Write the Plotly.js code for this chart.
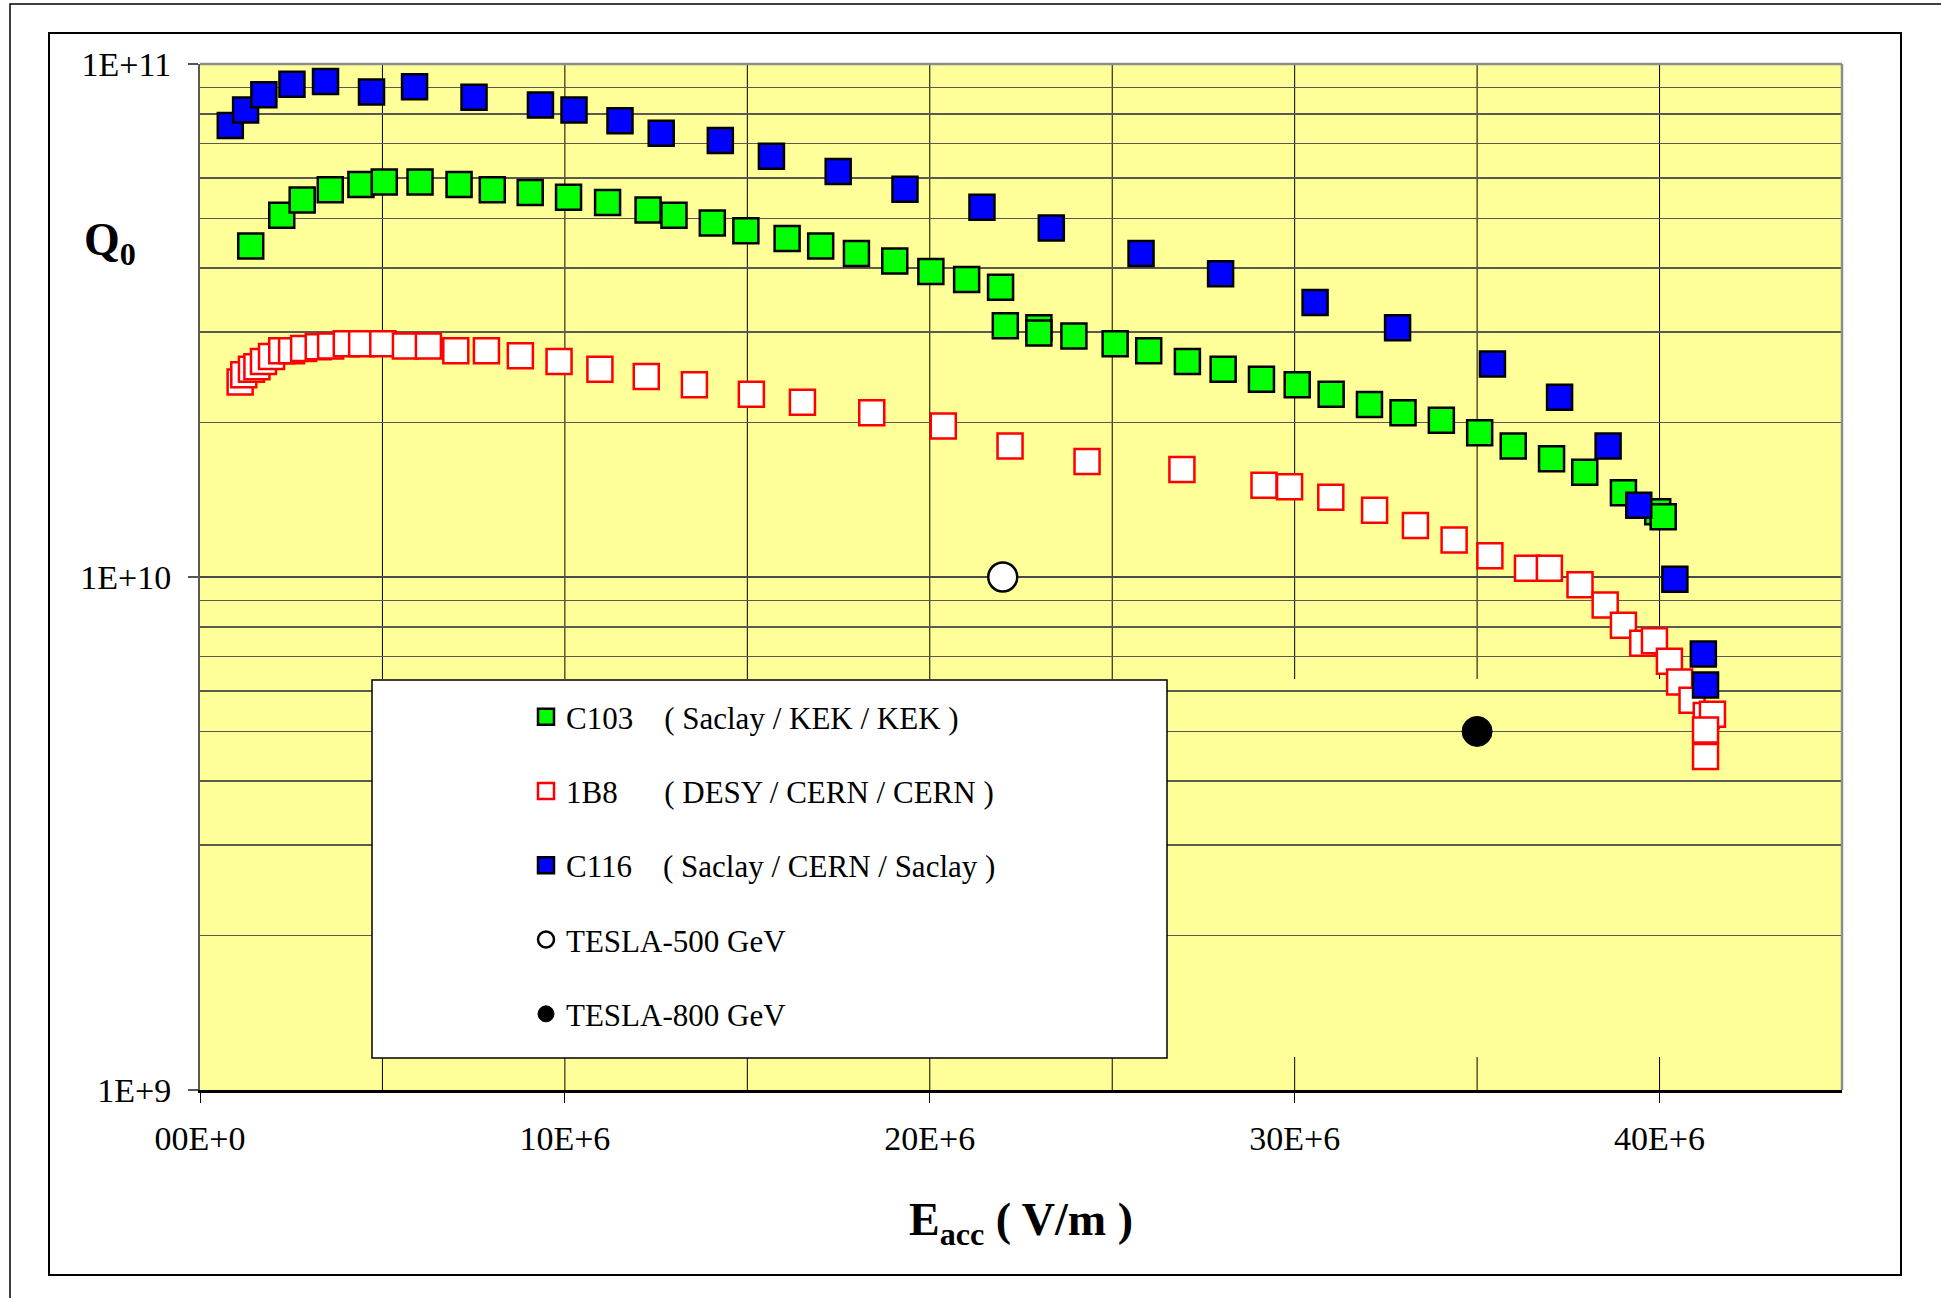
<!DOCTYPE html>
<html>
<head>
<meta charset="utf-8">
<script src="https://cdn.plot.ly/plotly-3.0.1.min.js"></script>
<style>html,body{margin:0;padding:0;background:#fff;overflow:hidden;}</style>
</head>
<body>
<div id="chart" style="width:1941px;height:1298px;"></div>
<script>
// ---------- data (E in V/m, Q0) ----------
const c103_E = [1.39e6, 2.24e6, 2.80e6, 3.57e6, 4.41e6, 5.05e6, 6.03e6, 7.10e6, 8.01e6, 9.05e6,
  10.10e6, 11.17e6, 12.28e6, 12.99e6, 14.04e6, 14.96e6, 16.09e6, 17.01e6, 17.99e6, 19.04e6,
  20.03e6, 21.01e6, 21.94e6, 22.07e6, 22.99e6, 22.99e6, 23.95e6, 25.08e6, 26.00e6, 27.06e6,
  28.04e6, 29.09e6, 30.07e6, 31.00e6, 32.05e6, 32.97e6, 34.02e6, 35.07e6, 35.99e6, 37.04e6,
  37.95e6, 39.01e6, 39.95e6, 40.10e6];
const c103_Q = [4.42e10, 5.07e10, 5.43e10, 5.69e10, 5.82e10, 5.89e10, 5.89e10, 5.82e10, 5.69e10, 5.62e10,
  5.50e10, 5.37e10, 5.19e10, 5.07e10, 4.90e10, 4.73e10, 4.57e10, 4.42e10, 4.27e10, 4.13e10,
  3.94e10, 3.80e10, 3.67e10, 3.09e10, 3.06e10, 2.99e10, 2.95e10, 2.85e10, 2.76e10, 2.63e10,
  2.54e10, 2.43e10, 2.37e10, 2.27e10, 2.17e10, 2.09e10, 2.02e10, 1.91e10, 1.80e10, 1.70e10,
  1.60e10, 1.46e10, 1.34e10, 1.31e10];

const b1b8_E = [1.10e6, 1.20e6, 1.41e6, 1.56e6, 1.74e6, 1.96e6, 2.24e6, 2.51e6, 2.84e6, 3.24e6,
  3.58e6, 4.01e6, 4.43e6, 5.01e6, 5.63e6, 6.26e6, 7.01e6, 7.85e6, 8.78e6, 9.84e6,
  10.96e6, 12.23e6, 13.55e6, 15.11e6, 16.51e6, 18.41e6, 20.37e6, 22.20e6, 24.31e6, 26.91e6,
  29.16e6, 29.86e6, 30.99e6, 32.19e6, 33.31e6, 34.37e6, 35.35e6, 36.38e6, 36.98e6, 37.82e6,
  38.51e6, 39.01e6, 39.54e6, 39.86e6, 40.27e6, 40.55e6, 40.89e6, 41.28e6, 41.45e6, 41.26e6, 41.26e6];
const b1b8_Q = [2.40e10, 2.48e10, 2.54e10, 2.57e10, 2.63e10, 2.69e10, 2.76e10, 2.76e10, 2.79e10, 2.81e10,
  2.82e10, 2.85e10, 2.85e10, 2.85e10, 2.82e10, 2.82e10, 2.76e10, 2.76e10, 2.70e10, 2.63e10,
  2.54e10, 2.46e10, 2.37e10, 2.27e10, 2.19e10, 2.09e10, 1.97e10, 1.80e10, 1.68e10, 1.62e10,
  1.51e10, 1.50e10, 1.43e10, 1.35e10, 1.26e10, 1.18e10, 1.10e10, 1.04e10, 1.04e10, 9.66e9,
  8.82e9, 8.05e9, 7.43e9, 7.51e9, 6.85e9, 6.24e9, 5.75e9, 5.37e9, 5.40e9, 5.03e9, 4.47e9];

const c116_E = [0.83e6, 1.25e6, 1.75e6, 2.52e6, 3.44e6, 4.70e6, 5.88e6, 7.51e6, 9.33e6, 10.25e6,
  11.51e6, 12.64e6, 14.26e6, 15.66e6, 17.49e6, 19.32e6, 21.43e6, 23.33e6, 25.79e6, 27.97e6,
  30.56e6, 32.82e6, 35.42e6, 37.26e6, 38.59e6, 39.43e6, 40.42e6, 41.20e6, 41.26e6];
const c116_Q = [7.59e10, 8.13e10, 8.71e10, 9.13e10, 9.24e10, 8.82e10, 9.03e10, 8.61e10, 8.32e10, 8.13e10,
  7.75e10, 7.33e10, 7.09e10, 6.61e10, 6.17e10, 5.70e10, 5.26e10, 4.79e10, 4.27e10, 3.90e10,
  3.43e10, 3.06e10, 2.60e10, 2.24e10, 1.80e10, 1.38e10, 9.9e9, 7.08e9, 6.16e9];

const tesla500_E = [22e6];
const tesla500_Q = [1e10];
const tesla800_E = [35e6];
const tesla800_Q = [5e9];

const NB = '\u00A0';
const seriesNames = {
  c103: 'C103' + NB.repeat(4) + '( Saclay / KEK / KEK )',
  b1b8: '1B8' + NB.repeat(6) + '( DESY / CERN / CERN )',
  c116: 'C116' + NB.repeat(4) + '( Saclay / CERN / Saclay )',
  t500: 'TESLA-500 GeV',
  t800: 'TESLA-800 GeV'
};

const xTickVals = [0, 10e6, 20e6, 30e6, 40e6];
const xTickText = ['00E+0', '10E+6', '20E+6', '30E+6', '40E+6'];
const xGridVals = [5e6, 10e6, 15e6, 20e6, 25e6, 30e6, 35e6, 40e6];
const yTickVals = [1e9, 1e10, 1e11];
const yTickText = ['1E+9', '1E+10', '1E+11'];
const yMinorVals = [2e9, 3e9, 4e9, 5e9, 6e9, 7e9, 8e9, 9e9, 2e10, 3e10, 4e10, 5e10, 6e10, 7e10, 8e10, 9e10];

// ---------- traces ----------
const SQ = 25;
const traces = [
  {x: b1b8_E, y: b1b8_Q, name: seriesNames.b1b8, type: 'scatter', mode: 'markers', legendgroup: 'b', legendrank: 2,
   marker: {symbol: 'square', size: SQ, color: '#FFFFFF', line: {color: '#FF0000', width: 2.5}}},
  {x: c103_E, y: c103_Q, name: seriesNames.c103, type: 'scatter', mode: 'markers', legendgroup: 'a', legendrank: 1,
   marker: {symbol: 'square', size: SQ, color: '#00FF00', line: {color: '#000000', width: 2.5}}},
  {x: c116_E, y: c116_Q, name: seriesNames.c116, type: 'scatter', mode: 'markers', legendgroup: 'c', legendrank: 3,
   marker: {symbol: 'square', size: SQ, color: '#0000FF', line: {color: '#000000', width: 2.5}}},
  {x: tesla500_E, y: tesla500_Q, name: seriesNames.t500, type: 'scatter', mode: 'markers', legendgroup: 'd', legendrank: 4,
   marker: {symbol: 'circle', size: 29, color: '#FFFFFF', line: {color: '#000000', width: 2.5}}},
  {x: tesla800_E, y: tesla800_Q, name: seriesNames.t800, type: 'scatter', mode: 'markers', legendgroup: 'e', legendrank: 5,
   marker: {symbol: 'circle', size: 30, color: '#000000', line: {color: '#000000', width: 1}}}
];

// ---------- geometry helpers (pixel -> paper) ----------
const PL = 200, PR = 1842, PT = 64, PB = 1090;
const px = X => (X - PL) / (PR - PL);
const py = Y => (PB - Y) / (PB - PT);

const shapes = [];
// vertical gridlines, interrupted across the legend band as in the original
xGridVals.forEach(v => {
  shapes.push({type: 'line', xref: 'x', yref: 'paper', x0: v, x1: v, y0: py(679), y1: 1, layer: 'between', line: {color: '#000', width: 1}});
  shapes.push({type: 'line', xref: 'x', yref: 'paper', x0: v, x1: v, y0: 0, y1: py(1057), layer: 'between', line: {color: '#000', width: 1}});
});
// plot-area border (top & right in grey)
shapes.push({type: 'line', xref: 'paper', yref: 'paper', x0: 0, x1: 1, y0: 1, y1: 1, layer: 'above', line: {color: '#8c8c8c', width: 2.5}});
shapes.push({type: 'line', xref: 'paper', yref: 'paper', x0: 1, x1: 1, y0: 0, y1: 1, layer: 'above', line: {color: '#8c8c8c', width: 2.5}});
// legend box
shapes.push({type: 'rect', xref: 'paper', yref: 'paper', x0: px(372), x1: px(1167), y0: py(1058), y1: py(680), layer: 'above',
  fillcolor: '#FFFFFF', line: {color: '#000', width: 1.5}});
// chart frames
shapes.push({type: 'rect', xref: 'paper', yref: 'paper', x0: px(49), x1: px(1901), y0: py(1275), y1: py(33),
  line: {color: '#000', width: 2}, fillcolor: 'rgba(0,0,0,0)', layer: 'above'});
shapes.push({type: 'rect', xref: 'paper', yref: 'paper', x0: px(10), x1: px(1990), y0: py(1340), y1: py(4),
  line: {color: '#000', width: 1.5}, fillcolor: 'rgba(0,0,0,0)', layer: 'above'});

const FONT = '"Liberation Serif", "Times New Roman", Times, serif';

const layout = {
  width: 1941, height: 1298,
  margin: {l: PL, r: 1941 - PR, t: PT, b: 1298 - PB, pad: 0},
  paper_bgcolor: '#FFFFFF',
  plot_bgcolor: '#FFFF99',
  font: {family: FONT, color: '#000000'},
  showlegend: true,
  xaxis: {
    type: 'linear', range: [0, 45e6], fixedrange: true,
    tickmode: 'array', tickvals: xTickVals, ticktext: xTickText,
    ticks: 'outside', ticklen: 10, tickwidth: 1, tickcolor: '#000',
    tickfont: {family: FONT, size: 34, color: '#000'},
    ticklabelstandoff: 7,
    showgrid: false, zeroline: false,
    showline: true, linecolor: '#000', linewidth: 2.5,
    title: {text: '<b>E<sub>acc</sub> ( V/m )</b>', font: {family: FONT, size: 46, color: '#000'}, standoff: 47}
  },
  yaxis: {
    type: 'log', range: [9, 11], fixedrange: true,
    tickmode: 'array', tickvals: yTickVals, ticktext: yTickText,
    ticks: 'outside', ticklen: 10, tickwidth: 1.5, tickcolor: '#555',
    tickfont: {family: FONT, size: 34, color: '#000'},
    ticklabelstandoff: 10,
    showgrid: true, gridcolor: '#4a4a4a', gridwidth: 1.3,
    minor: {tickmode: 'array', tickvals: yMinorVals, showgrid: true, gridcolor: '#5a5a50', gridwidth: 1.6, ticks: ''},
    zeroline: false,
    showline: true, linecolor: '#5a5a5a', linewidth: 2
  },
  legend: {
    x: px(526), xanchor: 'left', y: py(690), yanchor: 'top',
    bgcolor: 'rgba(0,0,0,0)', borderwidth: 0,
    traceorder: 'grouped', tracegroupgap: 31,
    font: {family: FONT, size: 31, color: '#000'},
    itemsizing: 'trace', itemclick: false, itemdoubleclick: false
  },
  shapes: shapes,
  annotations: [
    {text: '<b>Q<sub>0</sub></b>', xref: 'paper', yref: 'paper', x: px(110), y: py(243),
     xanchor: 'center', yanchor: 'middle', showarrow: false, font: {family: FONT, size: 46, color: '#000'}}
  ]
};

Plotly.newPlot('chart', traces, layout, {displayModeBar: false, staticPlot: true});
</script>
</body>
</html>
